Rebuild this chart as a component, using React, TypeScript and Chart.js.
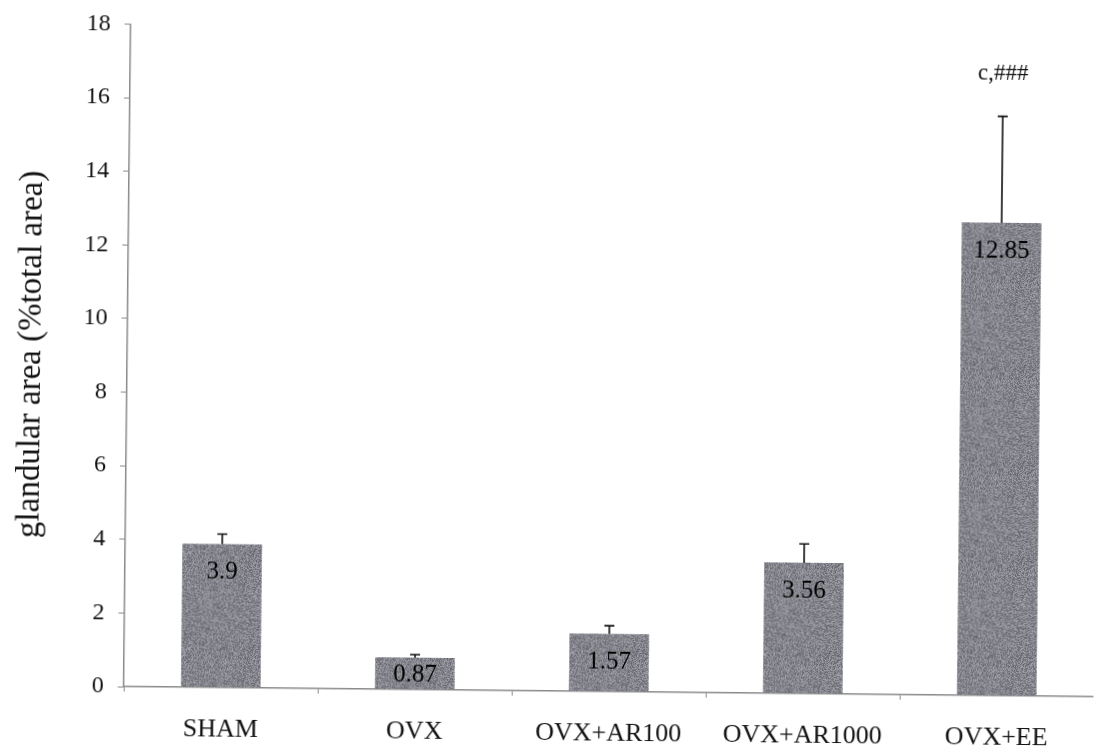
import React, { useEffect, useRef } from "react";
import { Chart, registerables } from "chart.js";

Chart.register(...registerables);

// Glandular area per treatment group (mean and upper error)
const categories = ["SHAM", "OVX", "OVX+AR100", "OVX+AR1000", "OVX+EE"];
const meanValues = [3.9, 0.87, 1.57, 3.56, 12.85];
const errorValues = [0.27, 0.08, 0.22, 0.51, 2.89];
const significance = ["", "", "", "", "c,###"];

// Value axis
const yMin = 0;
const yMax = 18;
const yStep = 2;
const annotationLevel = 16.9;

const FONT = "'Liberation Serif', 'DejaVu Serif', serif";
const INK = "#111111";
const AXIS_GREY = "#8a8a8a";

// Deterministic speckled grey fill for the bars
function makeGrain(ctx: CanvasRenderingContext2D): CanvasPattern | string {
  const size = 96;
  const c = document.createElement("canvas");
  c.width = size;
  c.height = size;
  const g = c.getContext("2d");
  if (!g) return "#97989d";
  const img = g.createImageData(size, size);
  for (let i = 0; i < size * size; i++) {
    let h = Math.imul(i + 17, 2654435761) >>> 0;
    h ^= h >>> 15;
    h = Math.imul(h, 2246822519) >>> 0;
    h ^= h >>> 13;
    const n = (h % 33) - 16;
    img.data[i * 4] = 148 + n;
    img.data[i * 4 + 1] = 149 + n;
    img.data[i * 4 + 2] = 156 + n;
    img.data[i * 4 + 3] = 255;
  }
  g.putImageData(img, 0, 0);
  return ctx.createPattern(c, "repeat") || "#97989d";
}

// Error bars, in-bar value labels and the significance mark
const overlayPlugin = {
  id: "barOverlay",
  afterDatasetsDraw(chart: any) {
    const ctx: CanvasRenderingContext2D = chart.ctx;
    const yScale = chart.scales.y;
    const meta = chart.getDatasetMeta(0);
    meta.data.forEach((bar: any, i: number) => {
      const { x, y: top, base } = bar.getProps(["x", "y", "base"], true);
      const tip = yScale.getPixelForValue(meanValues[i] + errorValues[i]);
      ctx.save();
      ctx.strokeStyle = INK;
      ctx.lineWidth = 1.6;
      ctx.beginPath();
      ctx.moveTo(x, top);
      ctx.lineTo(x, tip);
      ctx.moveTo(x - 5, tip);
      ctx.lineTo(x + 5, tip);
      ctx.stroke();

      const h = base - top;
      const ly = top + Math.min(28, h / 2 + 2);
      ctx.fillStyle = "#000000";
      ctx.textAlign = "center";
      ctx.textBaseline = "middle";
      ctx.font = `25px ${FONT}`;
      ctx.fillText(String(meanValues[i]), x, ly);

      if (significance[i]) {
        ctx.fillStyle = INK;
        ctx.font = `23px ${FONT}`;
        ctx.fillText(significance[i], x, yScale.getPixelForValue(annotationLevel));
      }
      ctx.restore();
    });
  },
};

export default function App() {
  const canvasRef = useRef<HTMLCanvasElement | null>(null);

  useEffect(() => {
    const canvas = canvasRef.current;
    if (!canvas) return;
    const ctx = canvas.getContext("2d");
    if (!ctx) return;
    const grain = makeGrain(ctx);

    const chart = new Chart(ctx, {
      type: "bar",
      data: {
        labels: categories,
        datasets: [
          {
            data: meanValues,
            backgroundColor: grain as any,
            borderWidth: 0,
            barPercentage: 0.41,
            categoryPercentage: 1,
          },
        ],
      },
      options: {
        responsive: false,
        animation: false,
        devicePixelRatio: 1,
        layout: { padding: { top: 23, left: 0, right: 0, bottom: 0 } },
        plugins: {
          legend: { display: false },
          tooltip: { enabled: false },
        },
        scales: {
          x: {
            afterFit: (scale: any) => {
              scale.height = 64;
            },
            grid: {
              display: true,
              drawOnChartArea: false,
              offset: true,
              color: AXIS_GREY,
              tickLength: 5,
            },
            border: { display: true, color: AXIS_GREY, width: 1.5, dash: [2, 2] },
            ticks: {
              color: INK,
              padding: 22,
              font: { family: FONT, size: 26 },
              maxRotation: 0,
              autoSkip: false,
            },
          },
          y: {
            min: yMin,
            max: yMax,
            afterFit: (scale: any) => {
              scale.width = 127;
            },
            grid: {
              display: true,
              drawOnChartArea: false,
              color: AXIS_GREY,
              tickLength: 6,
            },
            border: { display: true, color: AXIS_GREY, width: 1.5, dash: [2, 2] },
            ticks: {
              stepSize: yStep,
              color: INK,
              padding: 14,
              font: { family: FONT, size: 24 },
            },
            title: {
              display: true,
              text: "glandular area (%total area)",
              color: INK,
              font: { family: FONT, size: 33 },
              padding: { top: 12, bottom: 0 },
            },
          },
        },
      },
      plugins: [overlayPlugin],
    });

    return () => chart.destroy();
  }, []);

  return (
    <div
      style={{
        position: "fixed",
        left: 0,
        top: 0,
        width: 1097,
        height: 755,
        overflow: "hidden",
        background: "#ffffff",
      }}
    >
      <canvas
        ref={canvasRef}
        width={1097}
        height={755}
        style={{
          display: "block",
          width: 1097,
          height: 755,
          transform: "rotate(0.6deg)",
          transformOrigin: "50% 50%",
        }}
      />
    </div>
  );
}
